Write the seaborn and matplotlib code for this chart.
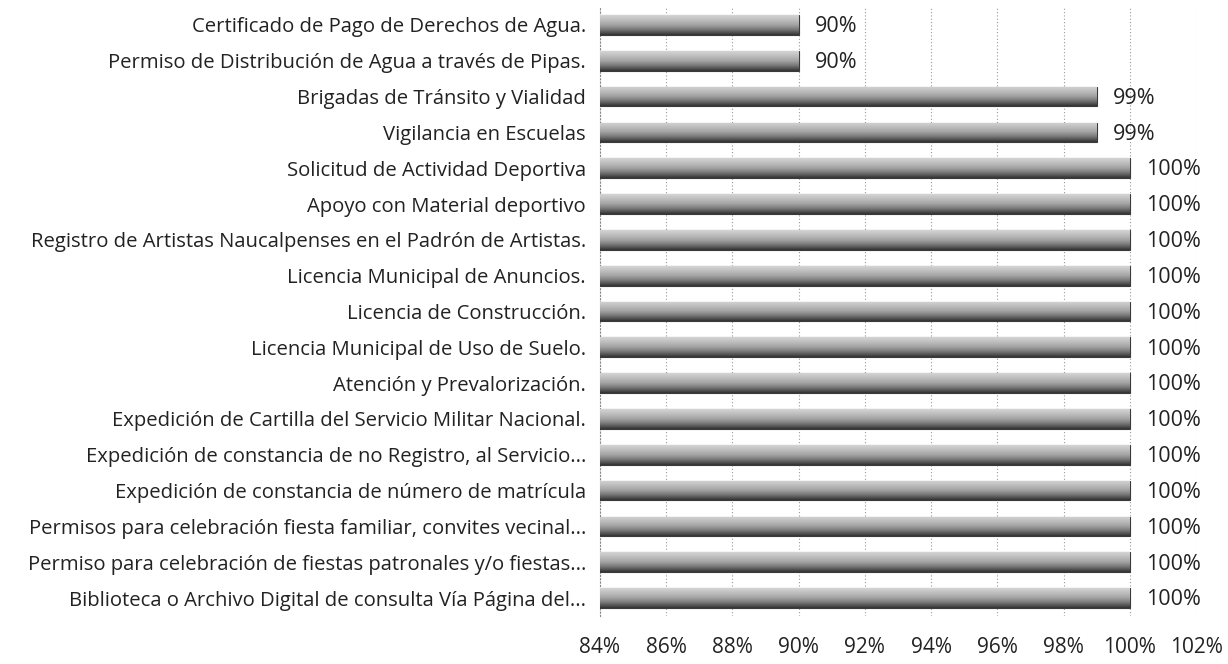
import numpy as np
import pandas as pd
import matplotlib
matplotlib.use("Agg")
import matplotlib.pyplot as plt
import seaborn as sns
from matplotlib.colors import LinearSegmentedColormap

categories = [
    "Certificado de Pago de Derechos de Agua.",
    "Permiso de Distribución de Agua a través de Pipas.",
    "Brigadas de Tránsito y Vialidad",
    "Vigilancia en Escuelas",
    "Solicitud de Actividad Deportiva",
    "Apoyo con Material deportivo",
    "Registro de Artistas Naucalpenses en el Padrón de Artistas.",
    "Licencia Municipal de Anuncios.",
    "Licencia de Construcción.",
    "Licencia Municipal de Uso de Suelo.",
    "Atención y Prevalorización.",
    "Expedición de Cartilla del Servicio Militar Nacional.",
    "Expedición de constancia de no Registro, al Servicio...",
    "Expedición de constancia de número de matrícula",
    "Permisos para celebración fiesta familiar, convites vecinal...",
    "Permiso para celebración de fiestas patronales y/o fiestas...",
    "Biblioteca o Archivo Digital de consulta Vía Página del...",
]
values = [0.90, 0.90, 0.99, 0.99, 1.00, 1.00, 1.00, 1.00, 1.00, 1.00,
          1.00, 1.00, 1.00, 1.00, 1.00, 1.00, 1.00]
value_labels = ["90%", "90%", "99%", "99%"] + ["100%"] * 13
tick_values = [0.84, 0.86, 0.88, 0.90, 0.92, 0.94, 0.96, 0.98, 1.00, 1.02]
tick_labels = ["84%", "86%", "88%", "90%", "92%", "94%", "96%", "98%", "100%", "102%"]

df = pd.DataFrame({"cat": categories, "val": values})

sns.set_theme(style="white")
plt.rcParams["font.family"] = ["Open Sans", "DejaVu Sans"]

fig = plt.figure(figsize=(12.28, 6.64), dpi=100)
ax = fig.add_axes([600 / 1228, 1 - 616 / 664, (1196 - 600) / 1228, (616 - 7) / 664])

sns.barplot(data=df, x="val", y="cat", orient="h", color="#9a9a9a",
            width=0.55, ax=ax, edgecolor="#3a3a3a", linewidth=0.8, zorder=3)

# cylinder-like gradient fill clipped to each bar
cmap = LinearSegmentedColormap.from_list(
    "cyl", ["#d4d4d4", "#bdbdbd", "#a2a2a2", "#737373", "#333333"])
grad = np.linspace(0, 1, 64).reshape(-1, 1)
for p in ax.patches:
    x0, y0 = p.get_x(), p.get_y()
    w, h = p.get_width(), p.get_height()
    im = ax.imshow(grad, cmap=cmap, aspect="auto",
                   extent=[0.84, x0 + w, y0 + h, y0], zorder=3.5,
                   interpolation="bilinear")
    im.set_clip_path(p)

ax.set_xlim(0.84, 1.02)
ax.set_ylim(len(categories) - 0.5, -0.5)
ax.set_xticks(tick_values)
ax.set_xticklabels(tick_labels, fontsize=15, color="#222222")
ax.set_xlabel("")
ax.set_ylabel("")
ax.tick_params(axis="y", labelsize=14.6, colors="#222222", length=0, pad=10)
ax.tick_params(axis="x", length=0, pad=15)

for s in ["top", "right", "bottom"]:
    ax.spines[s].set_visible(False)
ax.spines["left"].set_color("#888888")
ax.spines["left"].set_linestyle((0, (1, 2)))
ax.spines["left"].set_linewidth(0.8)

ax.grid(axis="x", color="#999999", linestyle=(0, (1, 2)), linewidth=0.8, zorder=0)
ax.set_axisbelow(True)

for i, (v, lab) in enumerate(zip(values, value_labels)):
    ax.text(v + 0.005, i + 0.05, lab, va="center", ha="left", fontsize=15.5,
            color="#222222")

fig.savefig("out.png", dpi=100)
